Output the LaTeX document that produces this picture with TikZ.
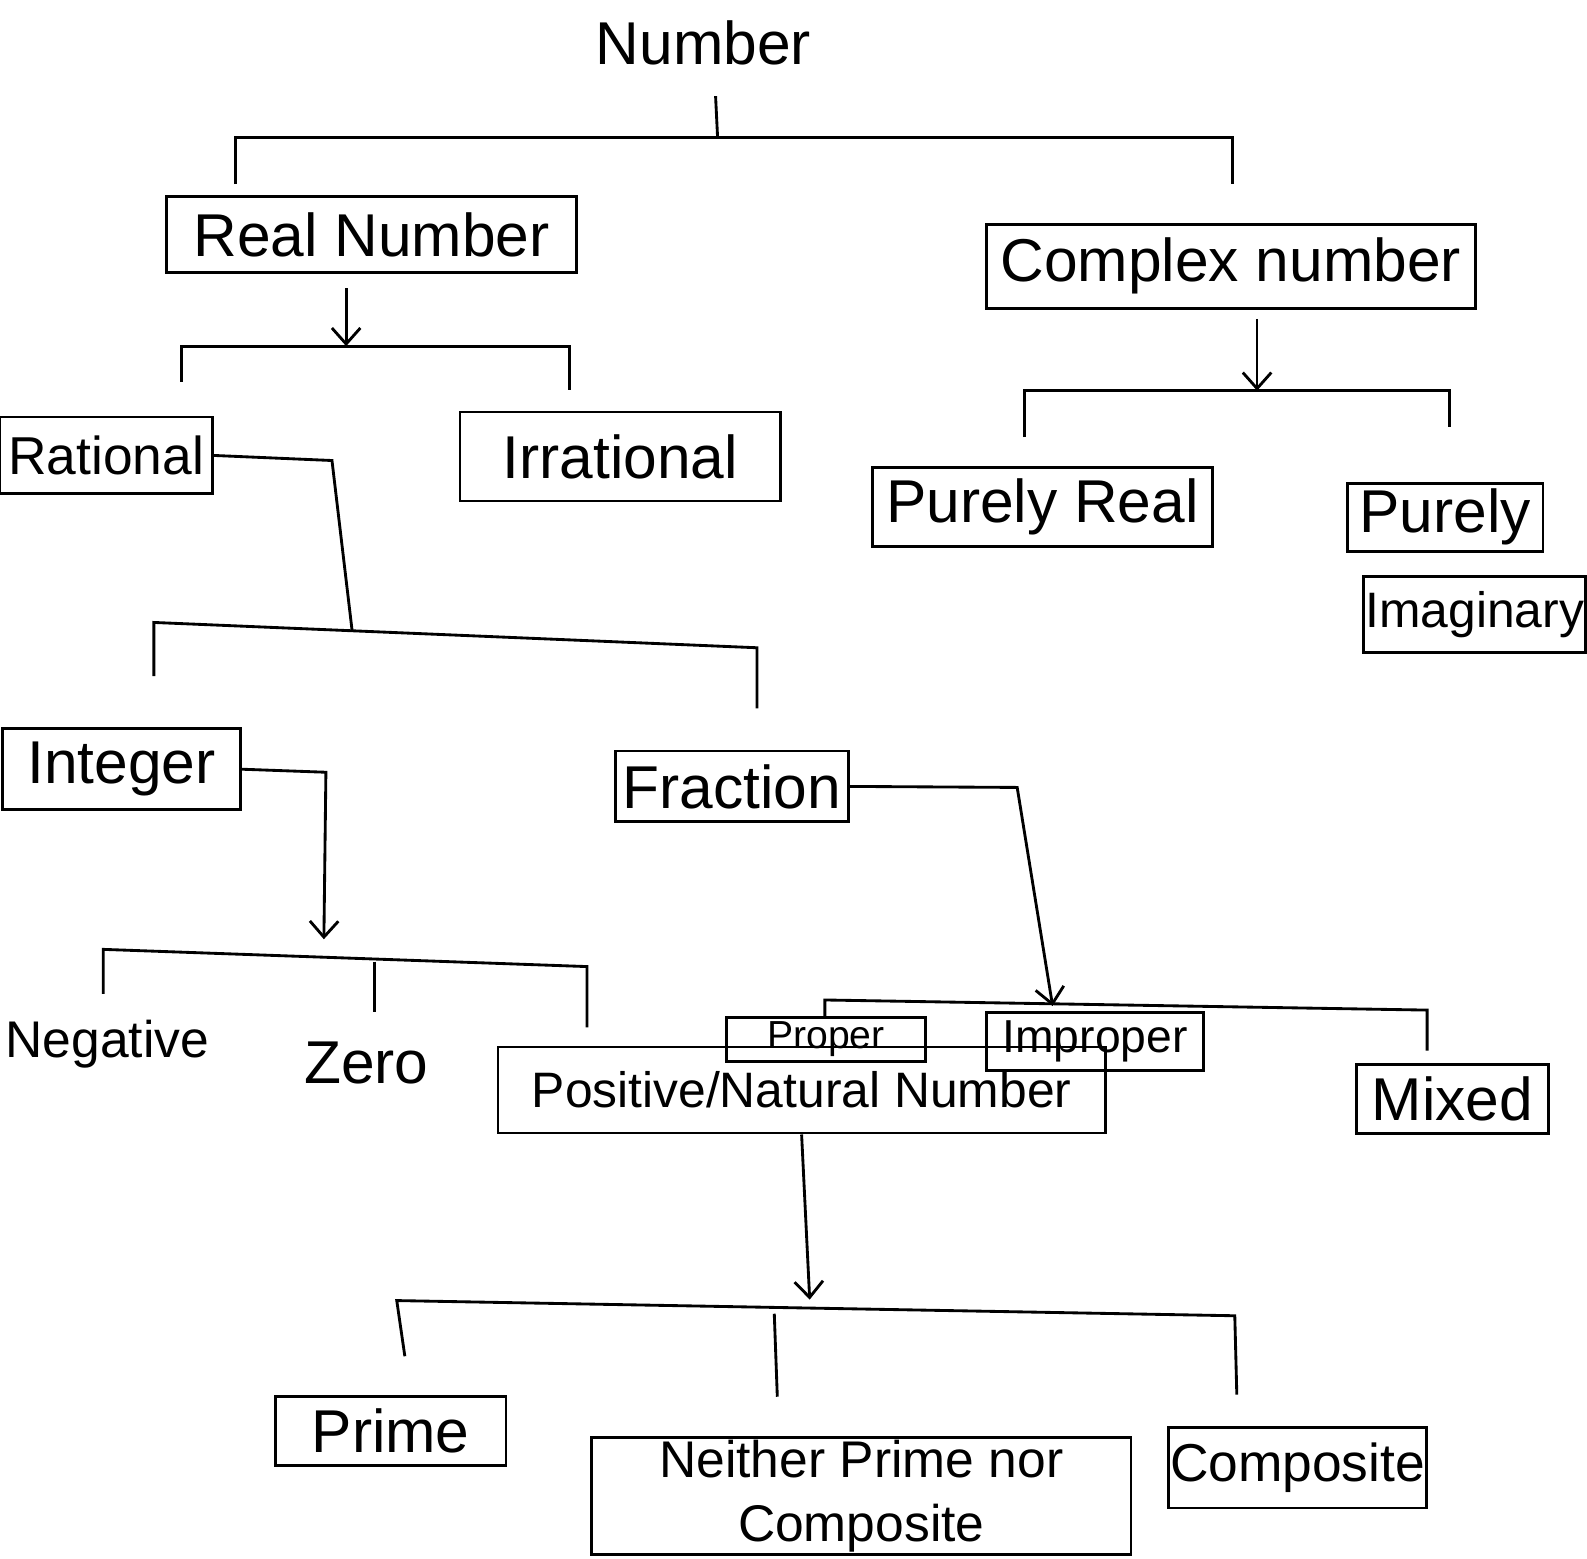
\documentclass[tikz,border=0pt]{standalone}
\usepackage{fontspec}
\setmainfont{Liberation Sans}
\usetikzlibrary{arrows.meta}
\begin{document}
\begin{tikzpicture}[x=0.02cm,y=-0.02cm,line width=1.6pt,
    >={Straight Barb[length=9pt,width=16pt]}]
        \useasboundingbox (0,0) rectangle (1568,1540);

        % plain labels
        \begin{scope}[every node/.style={font=\fontsize{34}{40}\selectfont}]
          \node (num)  at (695,42)   {Number};
          \node[font=\fontsize{29}{34}\selectfont, anchor=west, inner sep=0pt] (neg) at (4,1032) {Negative};
          \node (zero) at (362,1050) {Zero};
        \end{scope}

        % boxes
        \begin{scope}[every node/.style={draw, inner sep=0pt, font=\fontsize{34}{40}\selectfont}]
          \node[minimum width=8.1cm, minimum height=1.5cm]   (real)  at (367,232)  {Real Number};
          \node[minimum width=9.66cm, minimum height=1.66cm] (cplx)  at (1216,263) {Complex number};
          \node[minimum width=4.2cm, minimum height=1.52cm, font=\fontsize{30}{36}\selectfont] (rat) at (105,450) {Rational};
          \node[minimum width=6.34cm, minimum height=1.76cm] (irr)   at (613,451)  {Irrational};
          \node[minimum width=6.72cm, minimum height=1.56cm] (preal) at (1030,501) {Purely Real};
          \node[minimum width=3.86cm, minimum height=1.34cm] (pim)   at (1428,511) {Purely};
          \node[minimum width=4.38cm, minimum height=1.5cm, font=\fontsize{28}{34}\selectfont] (img) at (1457,607) {Imaginary};
          \node[minimum width=4.7cm, minimum height=1.6cm]   (int)   at (120,760)  {Integer};
          \node[minimum width=4.6cm, minimum height=1.4cm]   (frac)  at (723,777)  {Fraction};
          \node[minimum width=3.94cm, minimum height=0.86cm, font=\fontsize{22}{26}\selectfont] (prop) at (816,1027) {Proper};
          \node[minimum width=4.3cm, minimum height=1.16cm, font=\fontsize{26}{30}\selectfont]  (impr) at (1082,1029) {Improper};
          \node[minimum width=12cm, minimum height=1.7cm, font=\fontsize{28}{32}\selectfont]    (pos)  at (792,1077) {Positive/Natural Number};
          \node[minimum width=3.8cm, minimum height=1.36cm]  (mix)   at (1435,1086) {Mixed};
          \node[minimum width=4.56cm, minimum height=1.36cm] (prime) at (386,1414)  {Prime};
          \node[minimum width=10.66cm, minimum height=2.3cm, align=center, font=\fontsize{29}{36}\selectfont] (nei) at (851,1478) {Neither Prime nor\\Composite};
          \node[minimum width=5.1cm, minimum height=1.6cm, font=\fontsize{30}{36}\selectfont] (comp) at (1282,1450) {Composite};
        \end{scope}

        % bracket ends
        \coordinate (n1) at (707,95);   \coordinate (b1) at (709,136);
        \coordinate (b1l) at (233,182); \coordinate (b1r) at (1218,182);
        \coordinate (a2) at (342,285);  \coordinate (b2) at (342,342);
        \coordinate (b2l) at (179,377); \coordinate (b2r) at (563,385);
        \coordinate (a7) at (1242,315); \coordinate (b7) at (1242,386);
        \coordinate (b7l) at (1012,432); \coordinate (b7r) at (1432,422);
        \coordinate (r3) at (328,455);  \coordinate (b3) at (348,624);
        \coordinate (b3a) at (152,615); \coordinate (b3b) at (748,640);
        \coordinate (b3l) at (152,668); \coordinate (b3r) at (748,700);
        \coordinate (i4) at (322,763);  \coordinate (b4) at (320,928);
        \coordinate (b4a) at (102,938); \coordinate (b4b) at (580,955);
        \coordinate (b4l) at (102,982); \coordinate (b4r) at (580,1015);
        \coordinate (b4m) at (370,950); \coordinate (b4n) at (370,1000);
        \coordinate (f5) at (1005,778); \coordinate (b5) at (1040,994);
        \coordinate (b5a) at (815,988); \coordinate (b5b) at (1410,998);
        \coordinate (b5l) at (815,1005); \coordinate (b5r) at (1410,1038);
        \coordinate (b6) at (800,1284);
        \coordinate (b6a) at (392,1285); \coordinate (b6b) at (1220,1300);
        \coordinate (b6l) at (400,1340); \coordinate (b6r) at (1222,1378);
        \coordinate (b6m) at (765,1298); \coordinate (b6n) at (768,1380);

        % Number
        \draw (n1) -- (b1);
        \draw (b1l) |- (b1) -| (b1r);

        % Real / Complex
        \draw[->] (a2) -- (b2);
        \draw (b2l) |- (b2) -| (b2r);
        \draw[->] (a7) -- (b7);
        \draw (b7l) |- (b7) -| (b7r);

        % Rational
        \draw (rat.east) -- (r3) -- (b3);
        \draw (b3l) -- (b3a) -- (b3b) -- (b3r);

        % Integer
        \draw[->] (int.east) -- (i4) -- (b4);
        \draw (b4l) -- (b4a) -- (b4b) -- (b4r);
        \draw (b4m) -- (b4n);

        % Fraction
        \draw[->] (frac.east) -- (f5) -- (b5);
        \draw (b5l) -- (b5a) -- (b5b) -- (b5r);

        % Positive
        \draw[->] (pos.south) -- (b6);
        \draw (b6l) -- (b6a) -- (b6b) -- (b6r);
        \draw (b6m) -- (b6n);

      \end{tikzpicture}
\end{document}
